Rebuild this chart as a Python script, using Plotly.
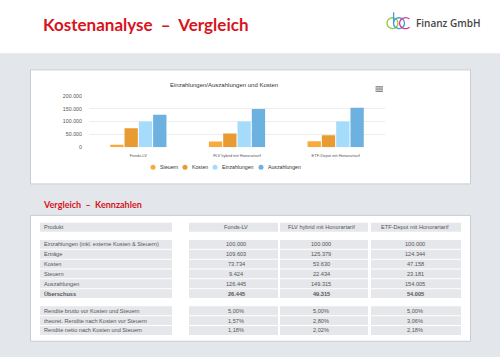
import plotly.graph_objects as go

W, H = 500, 360

# ---------------- data ----------------
categories = ["Fonds-LV", "FLV hybrid mit Honorartarif", "ETF-Depot mit Honorartarif"]
series_names = ["Steuern", "Kosten", "Einzahlungen", "Auszahlungen"]
steuern = [9424, 22434, 23181]
kosten = [73734, 53630, 47158]
einzahlungen = [100000, 100000, 100000]
auszahlungen = [126445, 149315, 154005]
ertraege = [109603, 125379, 124344]
ueberschuss = [26445, 49315, 54005]
rendite_brutto = [5.00, 5.00, 5.00]
rendite_theoret = [1.57, 2.80, 3.06]
rendite_netto = [1.18, 2.02, 2.18]
y_ticks = [0, 50000, 100000, 150000, 200000]

series_colors = ["#f8aa3c", "#e89b30", "#a6dcfb", "#6cb1df"]

table_header = ["Produkt", "Fonds-LV", "FLV hybrid mit Honorartarif", "ETF-Depot mit Honorartarif"]
group1_labels = ["Einzahlungen (inkl. externe Kosten & Steuern)", "Erträge", "Kosten",
                 "Steuern", "Auszahlungen", "Überschuss"]
group2_labels = ["Rendite brutto vor Kosten und Steuern",
                 "theoret. Rendite nach Kosten vor Steuern",
                 "Rendite netto nach Kosten und Steuern"]

title_text = "Kostenanalyse  \u2013  Vergleich"
section_text = "Vergleich  \u2013  Kennzahlen"
chart_title = "Einzahlungen/Auszahlungen und Kosten"
company = "Finanz GmbH"


def de_int(v):
    return f"{v:,}".replace(",", ".")


def de_pct(v):
    return f"{v:.2f}".replace(".", ",") + "%"


group1_values = [einzahlungen, ertraege, kosten, steuern, auszahlungen, ueberschuss]
group2_values = [rendite_brutto, rendite_theoret, rendite_netto]

# ---------------- layout helpers (pixel -> paper) ----------------
def px(x):
    return x / W


def py(y):
    return 1 - y / H


RED = "#d7141d"
BG = "#e3e6ea"
CELL = "#e5e7ea"
BORDER = "#c9cdd3"
TXT = "#555555"

fig = go.Figure()

# ---------------- bar chart ----------------
series_values = [steuern, kosten, einzahlungen, auszahlungen]
for name, vals, col in zip(series_names, series_values, series_colors):
    fig.add_trace(go.Bar(x=categories, y=vals, name=name, marker_color=col,
                         marker_line_width=0, xaxis="x", yaxis="y",
                         hoverinfo="skip", showlegend=False))

# ---------------- table (pixel axes x2 / y2) ----------------
col_spans = [(40, 172), (189, 278), (280, 368), (371, 461)]
text_x = [41.5, 236, 321, 415]
row_pitch = 10
group_gap = 7.5
cell_h = 9
header_y = 228

rows = []  # (y_center, texts, bold)
rows.append((header_y, table_header, False))
y = header_y + row_pitch + group_gap
for lab, vals in zip(group1_labels, group1_values):
    rows.append((y, [lab] + [de_int(v) for v in vals], lab == "Überschuss"))
    y += row_pitch
y += group_gap
for lab, vals in zip(group2_labels, group2_values):
    rows.append((y, [lab] + [de_pct(v) for v in vals], False))
    y += row_pitch

bx, bb, by, bw = [], [], [], []
for yc, texts, bold in rows:
    for (x0, x1) in col_spans:
        bb.append(x0)
        bx.append(x1 - x0)
        by.append(yc)
        bw.append(cell_h)
fig.add_trace(go.Bar(orientation="h", x=bx, base=bb, y=by, width=bw,
                     marker_color=CELL, marker_line_width=0,
                     xaxis="x2", yaxis="y2", hoverinfo="skip", showlegend=False))

annotations = []
for yc, texts, bold in rows:
    for j, t in enumerate(texts):
        annotations.append(dict(
            xref="x2", yref="y2", x=text_x[j], y=yc,
            text=f"<b>{t}</b>" if bold else t, showarrow=False,
            xanchor="left" if j == 0 else "center", yanchor="middle",
            font=dict(family="Liberation Sans", size=5.6, color=TXT)))

# legend (Highcharts-like, circle markers)
legend_x = [153, 185, 215, 261]
legend_y = 167
fig.add_trace(go.Scatter(x=legend_x, y=[legend_y] * 4, mode="markers",
                         marker=dict(size=5, color=series_colors),
                         xaxis="x2", yaxis="y2", hoverinfo="skip", showlegend=False))
for lx, name in zip(legend_x, series_names):
    annotations.append(dict(xref="x2", yref="y2", x=lx + 4.5, y=legend_y, text=name,
                            showarrow=False, xanchor="left", yanchor="middle",
                            font=dict(family="Liberation Sans", size=5.2, color="#333")))

# titles
annotations.append(dict(xref="paper", yref="paper", x=px(40.5), y=py(21.5), text=f"<b>{title_text}</b>",
                        showarrow=False, xanchor="left", yanchor="middle",
                        font=dict(family="Lato", size=17, color=RED)))
annotations.append(dict(xref="paper", yref="paper", x=px(41), y=py(204.5), text=f"<b>{section_text}</b>",
                        showarrow=False, xanchor="left", yanchor="middle",
                        font=dict(family="Lato", size=9, color=RED)))
annotations.append(dict(xref="paper", yref="paper", x=px(224), y=py(83), text=chart_title,
                        showarrow=False, xanchor="center", yanchor="middle",
                        font=dict(family="Liberation Sans", size=6, color="#333")))
annotations.append(dict(xref="paper", yref="paper", x=px(414), y=py(20.5), text=company,
                        showarrow=False, xanchor="left", yanchor="middle",
                        font=dict(family="Open Sans", size=10, color="#454545", weight=600)))

shapes = [
    # gray page band
    dict(type="rect", xref="paper", yref="paper", x0=0, x1=1, y0=0, y1=py(51),
         fillcolor=BG, line_width=0, layer="below"),
    # chart box
    dict(type="rect", xref="paper", yref="paper", x0=px(30.5), x1=px(470.5), y0=py(184), y1=py(68),
         fillcolor="white", line=dict(color=BORDER, width=1), layer="below"),
    # table box
    dict(type="rect", xref="paper", yref="paper", x0=px(30.5), x1=px(470.5), y0=py(344), y1=py(216),
         fillcolor="white", line=dict(color=BORDER, width=1), layer="below"),
]
# hamburger icon
for hy in [85.3, 87.5, 89.7]:
    shapes.append(dict(type="line", xref="paper", yref="paper", x0=px(375.5), x1=px(383),
                       y0=py(hy), y1=py(hy), line=dict(color="#666", width=1.1)))
# logo rings
shapes.append(dict(type="circle", xref="paper", yref="paper", x0=px(387), x1=px(398), y0=py(26), y1=py(15),
                   line=dict(color="#9bc93c", width=1.3)))
shapes.append(dict(type="circle", xref="paper", yref="paper", x0=px(393.5), x1=px(404.5), y0=py(26), y1=py(15),
                   line=dict(color="#3aa0dc", width=1.3)))
shapes.append(dict(type="line", xref="paper", yref="paper", x0=px(393.6), x1=px(393.6), y0=py(20.5), y1=py(9.5),
                   line=dict(color="#3aa0dc", width=1.3)))
shapes.append(dict(type="path", xref="paper", yref="paper",
                   path=f"M {px(409.5)},{py(16.3)} C {px(406)},{py(13.5)} {px(400)},{py(15)} {px(399.5)},{py(20.5)} "
                        f"C {px(400)},{py(26)} {px(406)},{py(27.5)} {px(409.5)},{py(24.7)}",
                   line=dict(color="#e0379a", width=1.3)))

fig.update_layout(
    width=W, height=H, margin=dict(l=0, r=0, t=0, b=0),
    paper_bgcolor="white", plot_bgcolor="rgba(0,0,0,0)",
    separators=",.", barmode="group", bargap=0.42, bargroupgap=0.07,
    showlegend=False, annotations=annotations, shapes=shapes,
    xaxis=dict(domain=[px(89), px(385)], anchor="y", type="category",
               showgrid=False, showline=False, zeroline=False, ticks="",
               tickfont=dict(family="Liberation Sans", size=4, color="#555"),
               ticklabelstandoff=5, fixedrange=True),
    yaxis=dict(domain=[py(146.7), py(94.5)], anchor="x", range=[0, 200000],
               tickvals=y_ticks, tickformat=",d", showline=False, zeroline=False,
               gridcolor="#e6e6e6", gridwidth=0.7, ticks="",
               tickfont=dict(family="Liberation Sans", size=5.3, color="#555"),
               ticklabelstandoff=6, fixedrange=True),
    xaxis2=dict(domain=[0, 1], anchor="y2", range=[0, W], visible=False, fixedrange=True),
    yaxis2=dict(domain=[0, 1], anchor="x2", range=[H, 0], visible=False, fixedrange=True),
)

fig.write_html("out.html", config={"displayModeBar": False, "staticPlot": True},
               post_script="document.body.style.margin='0';document.body.style.overflow='hidden';")
